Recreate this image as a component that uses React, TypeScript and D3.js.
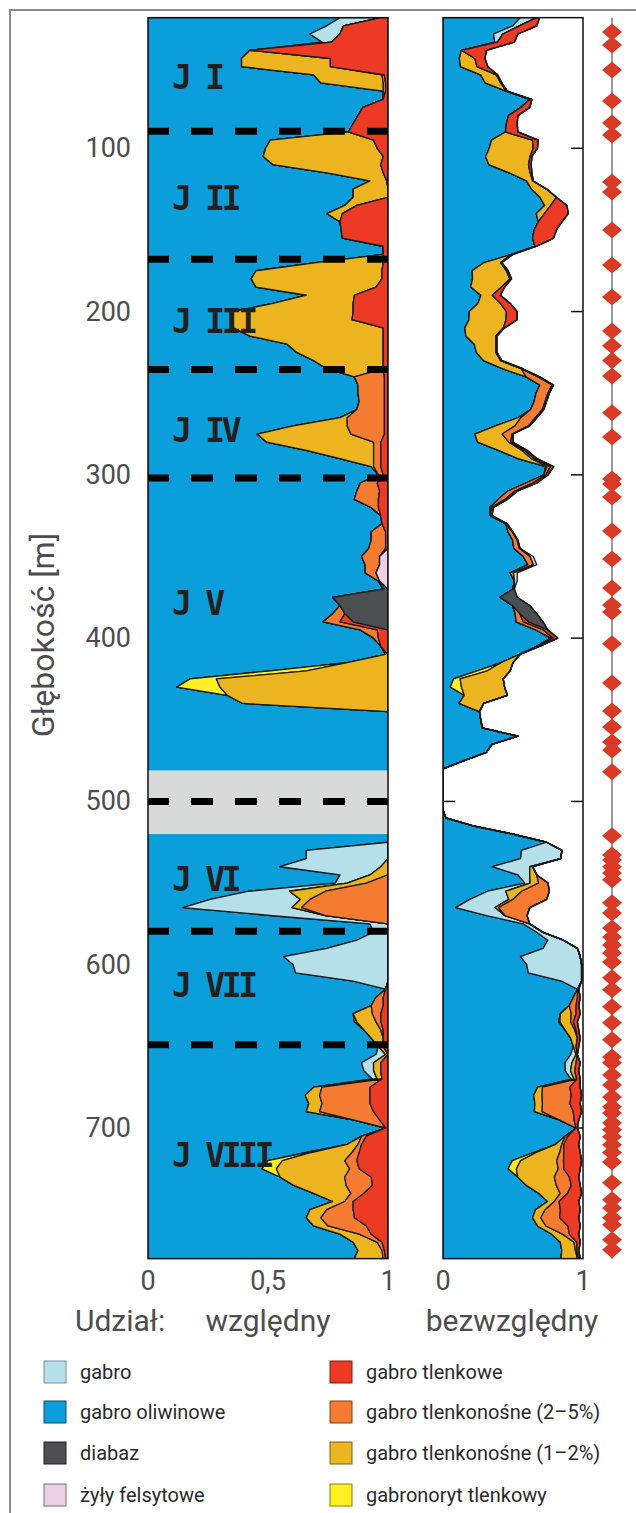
import React from 'react';
import * as d3 from 'd3';

// sampling depths [m], 5 m step
const depths = d3.range(20, 781, 5);

// relative share of each rock type (left panel), one value per depth
const gabroOliwinowe = [
  .80, .745, .675, .725, .425, .39, .39, .69, .72, .98,
  .98, .895, .875, .855, .835, .51, .49, .48, .52, .745,
  .925, .855, .855, .82, .745, .80, .805, .81, .98, .98,
  .70, .45, .43, .45, .66, .52, .355, .35, .355, .425,
  .58, .62, .69, .745, .86, .875, .875, .88, .87, .80,
  .605, .455, .495, .66, .80, .93, .96, .885, .87, .86,
  .93, .97, .975, .93, .93, .92, .89, .905, .905, .96,
  .98, .77, .80, .77, .73, .885, .94, .97, .99, .83,
  .51, .175, .12, .33, .395, 1, 1, 1, 1, 1,
  1, 1, 1, 1, 1, 1, 1, 1, 1, 1,
  1, 1, .66, .66, .55, .80, .78, .42, .26, .145,
  .52, .925, .94, .87, .745, .565, .605, .615, .855, .99,
  .95, .93, .855, .86, .90, .93, .96, .95, .89, .90,
  .935, .69, .655, .67, .66, .855, .99, .89, .83, .66,
  .50, .475, .55, .605, .69, .77, .675, .66, .69, .80,
  .855, .875, .86,
];
const gabro = [
  .17, .07, .125, .04, 0, 0, 0, 0, 0, 0,
  0, 0, 0, 0, 0, 0, 0, 0, 0, 0,
  0, 0, 0, 0, 0, 0, 0, 0, 0, 0,
  0, 0, 0, 0, 0, 0, 0, 0, 0, 0,
  0, 0, 0, 0, 0, 0, 0, 0, 0, 0,
  0, 0, 0, 0, 0, 0, 0, 0, 0, 0,
  0, 0, 0, 0, 0, 0, 0, 0, 0, 0,
  0, 0, 0, 0, 0, 0, 0, 0, 0, 0,
  0, 0, 0, 0, 0, 0, 0, 0, 0, 0,
  0, 0, 0, 0, 0, 0, 0, 0, 0, 0,
  0, 0, .34, .34, .42, .125, .05, .17, .375, .455,
  .22, .075, .06, .13, .255, .435, .395, .385, .145, 0,
  0, 0, 0, .01, 0, 0, 0, .04, .05, .04,
  .02, 0, 0, 0, 0, 0, 0, 0, 0, 0,
  0, 0, 0, 0, 0, 0, 0, 0, 0, 0,
  0, 0, 0,
];
const gabronoryt = [
  0, 0, 0, 0, 0, 0, 0, 0, 0, 0,
  0, 0, 0, 0, 0, 0, 0, 0, 0, 0,
  0, 0, 0, 0, 0, 0, 0, 0, 0, 0,
  0, 0, 0, 0, 0, 0, 0, 0, 0, 0,
  0, 0, 0, 0, 0, 0, 0, 0, 0, 0,
  0, 0, 0, 0, 0, 0, 0, 0, 0, 0,
  0, 0, 0, 0, 0, 0, 0, 0, 0, 0,
  0, 0, 0, 0, 0, 0, 0, 0, 0, 0,
  .15, .11, .18, 0, 0, 0, 0, 0, 0, 0,
  0, 0, 0, 0, 0, 0, 0, 0, 0, 0,
  0, 0, 0, 0, 0, 0, 0, 0, 0, 0,
  0, 0, 0, 0, 0, 0, 0, 0, 0, 0,
  0, 0, 0, 0, 0, 0, 0, 0, 0, 0,
  0, 0, 0, 0, 0, 0, 0, 0, 0, .02,
  .06, .06, 0, 0, 0, 0, 0, 0, 0, 0,
  0, 0, 0,
];
const tlenkonosne12 = [
  0, 0, 0, 0, 0, .37, .37, .285, .26, 0,
  0, 0, 0, 0, 0, .43, .465, .50, .45, .235,
  .07, .145, .145, .05, .065, 0, 0, 0, 0, 0,
  .28, .525, .545, .50, .20, .335, .50, .50, .625, .555,
  .40, .36, .29, .235, 0, 0, 0, 0, 0, .03,
  .225, .39, .445, .28, .14, .01, 0, 0, 0, 0,
  0, 0, 0, 0, 0, 0, 0, 0, 0, 0,
  0, 0, 0, 0, 0, 0, 0, 0, .01, .17,
  .34, .715, .70, .67, .605, 0, 0, 0, 0, 0,
  0, 0, 0, 0, 0, 0, 0, 0, 0, 0,
  0, 0, 0, 0, .03, .075, .08, .15, .04, .04,
  0, 0, 0, 0, 0, 0, 0, 0, 0, 0,
  0, 0, .08, .08, .07, .05, .02, .01, .03, .03,
  .02, .035, .06, .055, .055, 0, 0, 0, .045, .17,
  .26, .305, .27, .22, .155, .05, .07, .06, .06, .08,
  .10, .10, .12,
];
const tlenkonosne25 = [
  0, 0, 0, 0, 0, 0, 0, .01, .01, .01,
  0, 0, 0, 0, 0, 0, 0, 0, 0, 0,
  0, 0, 0, 0, 0, 0, 0, 0, 0, 0,
  0, 0, 0, 0, 0, 0, 0, 0, 0, 0,
  0, 0, 0, 0, .125, .11, .11, .105, .115, .155,
  .155, .14, .03, .03, .03, .03, .02, .07, .095, .10,
  .03, 0, 0, .06, .06, .07, .075, .06, .045, .005,
  0, 0, 0, .05, .07, .07, .02, 0, 0, 0,
  0, 0, 0, 0, 0, 0, 0, 0, 0, 0,
  0, 0, 0, 0, 0, 0, 0, 0, 0, 0,
  0, 0, 0, 0, 0, 0, .09, .26, .325, .36,
  .26, 0, 0, 0, 0, 0, 0, 0, 0, 0,
  .03, .05, .035, .02, .01, 0, 0, 0, 0, 0,
  0, .20, .21, .20, .225, .11, 0, .02, .015, .03,
  .05, .04, .11, .11, .055, .035, .11, .14, .16, .05,
  .02, .01, .01,
];
const tlenkowe = [
  .03, .185, .20, .235, .575, .24, .24, .015, .01, .01,
  .02, .105, .125, .145, .165, .06, .045, .02, .03, .02,
  .005, 0, 0, .13, .19, .20, .195, .19, .02, .02,
  .02, .025, .025, .05, .14, .145, .145, .15, .02, .02,
  .02, .02, .02, .02, .015, .015, .015, .015, .015, .015,
  .015, .015, .03, .03, .03, .03, .02, .045, .035, .04,
  .04, .03, .025, .01, .01, .01, 0, 0, 0, 0,
  0, 0, 0, 0, .055, .045, .04, .03, 0, 0,
  0, 0, 0, 0, 0, 0, 0, 0, 0, 0,
  0, 0, 0, 0, 0, 0, 0, 0, 0, 0,
  0, 0, 0, 0, 0, 0, 0, 0, 0, 0,
  0, 0, 0, 0, 0, 0, 0, 0, 0, .01,
  .02, .02, .03, .03, .02, .02, .02, 0, .03, .03,
  .025, .075, .075, .075, .06, .035, .01, .09, .11, .12,
  .13, .12, .07, .065, .10, .145, .145, .14, .09, .07,
  .025, .015, .01,
];
const diabaz = [
  0, 0, 0, 0, 0, 0, 0, 0, 0, 0,
  0, 0, 0, 0, 0, 0, 0, 0, 0, 0,
  0, 0, 0, 0, 0, 0, 0, 0, 0, 0,
  0, 0, 0, 0, 0, 0, 0, 0, 0, 0,
  0, 0, 0, 0, 0, 0, 0, 0, 0, 0,
  0, 0, 0, 0, 0, 0, 0, 0, 0, 0,
  0, 0, 0, 0, 0, 0, 0, 0, 0, 0,
  .02, .23, .20, .18, .145, 0, 0, 0, 0, 0,
  0, 0, 0, 0, 0, 0, 0, 0, 0, 0,
  0, 0, 0, 0, 0, 0, 0, 0, 0, 0,
  0, 0, 0, 0, 0, 0, 0, 0, 0, 0,
  0, 0, 0, 0, 0, 0, 0, 0, 0, 0,
  0, 0, 0, 0, 0, 0, 0, 0, 0, 0,
  0, 0, 0, 0, 0, 0, 0, 0, 0, 0,
  0, 0, 0, 0, 0, 0, 0, 0, 0, 0,
  0, 0, 0,
];
const zylyFelsytowe = [
  0, 0, 0, 0, 0, 0, 0, 0, 0, 0,
  0, 0, 0, 0, 0, 0, 0, 0, 0, 0,
  0, 0, 0, 0, 0, 0, 0, 0, 0, 0,
  0, 0, 0, 0, 0, 0, 0, 0, 0, 0,
  0, 0, 0, 0, 0, 0, 0, 0, 0, 0,
  0, 0, 0, 0, 0, 0, 0, 0, 0, 0,
  0, 0, 0, 0, 0, 0, .035, .035, .05, .035,
  0, 0, 0, 0, 0, 0, 0, 0, 0, 0,
  0, 0, 0, 0, 0, 0, 0, 0, 0, 0,
  0, 0, 0, 0, 0, 0, 0, 0, 0, 0,
  0, 0, 0, 0, 0, 0, 0, 0, 0, 0,
  0, 0, 0, 0, 0, 0, 0, 0, 0, 0,
  0, 0, 0, 0, 0, 0, 0, 0, 0, 0,
  0, 0, 0, 0, 0, 0, 0, 0, 0, 0,
  0, 0, 0, 0, 0, 0, 0, 0, 0, 0,
  0, 0, 0,
];
// core recovery (absolute share = relative share * recovery)
const recovery = [
  .69, .67, .535, .51, .31, .30, .32, .39, .42, .46,
  .635, .62, .535, .53, .535, .68, .675, .635, .63, .635,
  .645, .74, .81, .885, .895, .85, .81, .79, .67, .50,
  .42, .465, .49, .44, .41, .48, .53, .53, .44, .385,
  .385, .385, .42, .57, .69, .79, .76, .74, .72, .67,
  .62, .50, .50, .60, .67, .79, .75, .67, .53, .46,
  .36, .35, .46, .50, .535, .55, .645, .67, .53, .53,
  .51, .53, .62, .67, .715, .75, .82, .69, .55, .50,
  .48, .43, .44, .46, .29, .26, .27, .28, .535, .35,
  .31, .15, 0, 0, 0, 0, 0, 0, .02, .215,
  .50, .74, .85, .84, .64, .67, .75, .76, .74, .62,
  .60, .62, .71, .86, .96, .98, .99, .99, .99, .97,
  .98, .97, .98, .96, .97, .98, .97, .96, .98, .97,
  .98, .98, .99, .98, .99, .97, .96, .98, .97, .98,
  .99, .98, .97, .98, .99, .97, .98, .97, .98, .97,
  .98, .97, .98,
];

// unit boundaries (dashed lines) and labels
const boundaries = [89.5, 168, 235.5, 302, 500, 579.5, 649];
const units = ['J I', 'J II', 'J III', 'J IV', 'J V', 'J VI', 'J VII', 'J VIII'];
const unitDepths = [56.5, 130.5, 206, 273, 378.5, 548, 613, 717];
const gapDepths = [481, 520];
const depthTicks = [100, 200, 300, 400, 500, 600, 700];

// sample points (diamonds) [m]
const samples = [
  28.8, 36.7, 52, 71, 84.5, 91.9, 120.6, 126.8, 150, 171.5, 191, 211.9, 221, 230,
  239.4, 262, 276.8, 302.5, 305.6, 313.5, 334.4, 351.5, 369.3, 379.7, 384, 403.5,
  427.4, 444.6, 454.4, 463.6, 468.5, 481.9, 521, 532.8, 535.8, 540, 543.8, 548, 562,
  568.3, 577.5, 583, 588, 592.8, 598.3, 608, 615.4, 625.8, 635.6, 646, 656.5, 660,
  667.5, 673.6, 681, 687, 690.8, 697, 701, 705.4, 710.3, 715, 720.8, 733.6, 744, 749,
  755, 759.3, 768.5, 774.6,
];

const keys = ['oliw', 'gabro', 'noryt', 'tl12', 'tl25', 'tlenk', 'diabaz', 'fels'];
const colors: Record<string, string> = {
  oliw: '#0a9edb', gabro: '#b6e0e9', noryt: '#fff121', tl12: '#ecb51f',
  tl25: '#f47b30', tlenk: '#ec3a24', diabaz: '#4b4f52', fels: '#ecd0e4',
};
const legendItems = [
  ['gabro', 'gabro'], ['oliw', 'gabro oliwinowe'], ['diabaz', 'diabaz'], ['fels', 'żyły felsytowe'],
  ['tlenk', 'gabro tlenkowe'], ['tl25', 'gabro tlenkonośne (2–5%)'], ['tl12', 'gabro tlenkonośne (1–2%)'], ['noryt', 'gabronoryt tlenkowy'],
];
const legendStroke: Record<string, string> = {
  oliw: '#1d4a6b', gabro: '#7a8f94', noryt: '#8a7d10', tl12: '#7d5f10',
  tl25: '#7d4018', tlenk: '#7a2015', diabaz: '#222', fels: '#7d6a78',
};

const axisFont = "Roboto, sans-serif";
const legendFont = "'Liberation Sans Narrow', Roboto, sans-serif";

export default function App() {
  const width = 636, height = 1513;
  const y = d3.scaleLinear().domain([0, 700]).range([-15, 1128]);
  const xRel = d3.scaleLinear().domain([0, 1]).range([148, 388]);
  const xAbs = d3.scaleLinear().domain([0, 1]).range([443, 583]);
  const top = y(20), bottom = y(780);

  const rows = depths.map((d, i) => ({
    depth: d,
    oliw: gabroOliwinowe[i], gabro: gabro[i], noryt: gabronoryt[i], tl12: tlenkonosne12[i],
    tl25: tlenkonosne25[i], tlenk: tlenkowe[i], diabaz: diabaz[i], fels: zylyFelsytowe[i],
  }));
  const absRows = rows.map((r, i) => {
    const o: any = { depth: r.depth };
    keys.forEach(k => { o[k] = (r as any)[k] * recovery[i]; });
    return o;
  });

  const stack = d3.stack<any>().keys(keys);
  const relSeries = stack(rows);
  const absSeries = stack(absRows);

  const areaFor = (x: d3.ScaleLinear<number, number>) =>
    d3.area<any>()
      .y(d => y(d.data.depth))
      .x0(d => x(d[0]))
      .x1(d => x(d[1]));
  const relArea = areaFor(xRel);
  const absArea = areaFor(xAbs);

  const diamond = (cx: number, cy: number) =>
    `M${cx - 10},${cy}L${cx},${cy - 8.5}L${cx + 10},${cy}L${cx},${cy + 8.5}Z`;

  return (
    <svg width={width} height={height} style={{ display: 'block', position: 'absolute', left: 0, top: 0 }}>
      <rect width={width} height={height} fill="#fff" />
      <defs>
        <clipPath id="clipRel"><rect x={148} y={top} width={240} height={bottom - top} /></clipPath>
        <clipPath id="clipAbs"><rect x={443} y={top} width={140} height={bottom - top} /></clipPath>
      </defs>
      {/* outer frame */}
      <path d={`M10,${height}V10H${width}`} fill="none" stroke="#8c8c8c" strokeWidth={2} />

      {/* relative panel */}
      <g clipPath="url(#clipRel)">
        {relSeries.map(s => (
          <path key={s.key} d={relArea(s) || ''} fill={colors[s.key]} stroke="#1a1a1a" strokeWidth={1.3} strokeLinejoin="round" />
        ))}
        <rect x={148} y={y(gapDepths[0])} width={240} height={y(gapDepths[1]) - y(gapDepths[0])} fill="#d8d9d9" />
        {boundaries.map(b => (
          <line key={b} x1={147} x2={390} y1={y(b)} y2={y(b)} stroke="#000" strokeWidth={7} strokeDasharray="22 22" />
        ))}
      </g>
      {units.map((u, i) => (
        <text key={u} x={172} y={y(unitDepths[i])} fontFamily="'DejaVu Sans Mono', monospace" fontWeight="bold"
          fontSize={33} letterSpacing={-3.3} fill="#231f20" dominantBaseline="central">{u}</text>
      ))}
      <rect x={148} y={top} width={240} height={bottom - top} fill="none" stroke="#111" strokeWidth={1.5} />

      {/* absolute panel */}
      {depthTicks.map(t => (
        <g key={t}>
          <line x1={443} x2={455} y1={y(t)} y2={y(t)} stroke="#111" strokeWidth={1.5} />
          <line x1={571} x2={583} y1={y(t)} y2={y(t)} stroke="#111" strokeWidth={1.5} />
        </g>
      ))}
      <g clipPath="url(#clipAbs)">
        {absSeries.map(s => (
          <path key={s.key} d={absArea(s) || ''} fill={colors[s.key]} stroke="#1a1a1a" strokeWidth={1.3} strokeLinejoin="round" />
        ))}
      </g>
      <rect x={443} y={top} width={140} height={bottom - top} fill="none" stroke="#111" strokeWidth={1.5} />

      {/* samples */}
      <line x1={612} x2={612} y1={top} y2={bottom} stroke="#9a9a9a" strokeWidth={2} />
      {samples.map((s, i) => (
        <path key={i} d={diamond(612, y(s))} fill="#d83a26" />
      ))}

      {/* depth axis */}
      {depthTicks.map(t => (
        <text key={t} x={131} y={y(t)} textAnchor="end" dominantBaseline="central" fontFamily={axisFont}
          fontSize={27} fill="#4d4d4d">{t}</text>
      ))}
      <text transform="translate(43,635) rotate(-90)" textAnchor="middle" dominantBaseline="central"
        fontFamily={axisFont} fontSize={32} fill="#4d4d4d">Głębokość [m]</text>

      {/* bottom axis */}
      {[[xRel(0), '0'], [xRel(0.5), '0,5'], [xRel(1), '1'], [xAbs(0), '0'], [xAbs(1), '1']].map(([x, l], i) => (
        <text key={i} x={x as number} y={1281} textAnchor="middle" dominantBaseline="central" fontFamily={axisFont}
          fontSize={27} fill="#4d4d4d">{l}</text>
      ))}
      <text x={75} y={1320} dominantBaseline="central" fontFamily={axisFont} fontSize={30} fill="#4d4d4d">Udział:</text>
      <text x={268} y={1320} textAnchor="middle" dominantBaseline="central" fontFamily={axisFont} fontSize={30} fill="#4d4d4d">względny</text>
      <text x={512} y={1320} textAnchor="middle" dominantBaseline="central" fontFamily={axisFont} fontSize={30} fill="#4d4d4d">bezwzględny</text>

      {/* legend */}
      {legendItems.map(([k, label], i) => {
        const col = Math.floor(i / 4), row = i % 4;
        const lx = col === 0 ? 44 : 330;
        const ly = [1372, 1412, 1453, 1495][row];
        return (
          <g key={k}>
            <rect x={lx} y={ly - 11} width={22} height={22} fill={colors[k]} stroke={legendStroke[k]} strokeWidth={1} />
            <text x={lx + 36} y={ly} dominantBaseline="central" fontFamily={legendFont} fontSize={20} fill="#2a2a2a">{label}</text>
          </g>
        );
      })}
    </svg>
  );
}
